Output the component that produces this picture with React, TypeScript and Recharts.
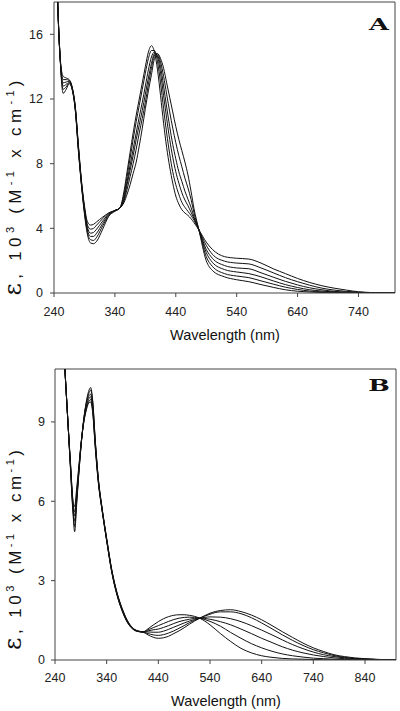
import React from 'react';
import { LineChart, Line, XAxis, YAxis, ReferenceLine } from 'recharts';

// ---------- Panel A ----------
const wavelengthsA = [240,245,250,255,260,265,270,275,280,285,290,295,300,305,310,320,330,340,348,355,360,365,370,375,380,385,390,395,400,405,410,415,420,425,430,435,440,445,450,455,460,465,470,478,490,500,520,540,560,580,600,620,640,660,680,700,720,740,760,780,800];

const epsA1 = [30,19.5,14.6,13.4,13.3,13.2,12.7,11.5,9.2,7.0,5.4,4.4,4.2,4.25,4.4,4.7,4.95,5.1,5.25,5.6,6.1,6.7,7.4,8.1,9.1,10.2,11.4,12.5,13.5,14.5,14.8,14.5,13.9,13.0,12.1,11.2,10.3,9.5,8.8,8.1,7.3,6.3,5.2,3.9,2.0,1.4,1.0,0.82,0.7,0.52,0.35,0.2,0.11,0.06,0.03,0.02,0.01,0,0,0,0];
const epsA2 = [30,19.5,14.6,13.2,13.2,13.15,12.7,11.5,9.1,6.9,5.3,4.2,3.95,4.0,4.2,4.6,4.95,5.1,5.25,5.7,6.4,7.2,8.0,8.9,9.9,10.8,11.8,12.9,13.9,14.7,14.8,14.3,13.4,12.3,11.2,10.2,9.3,8.5,7.8,7.1,6.5,5.8,4.95,3.9,2.25,1.65,1.2,1.05,0.95,0.75,0.55,0.36,0.22,0.12,0.07,0.04,0.02,0.01,0,0,0];
const epsA3 = [30,19.5,14.6,13.0,13.05,13.1,12.65,11.4,9.0,6.85,5.2,4.05,3.7,3.75,3.95,4.45,4.9,5.1,5.25,5.8,6.7,7.6,8.5,9.5,10.4,11.3,12.3,13.3,14.2,14.8,14.7,14.0,12.8,11.5,10.3,9.2,8.3,7.5,6.9,6.3,5.8,5.3,4.7,3.9,2.5,1.9,1.45,1.3,1.2,1.0,0.75,0.52,0.34,0.2,0.12,0.06,0.03,0.02,0.01,0,0];
const epsA4 = [30,19.5,14.6,12.8,12.9,13.05,12.6,11.4,9.0,6.8,5.1,3.9,3.5,3.5,3.7,4.3,4.85,5.1,5.25,5.9,6.9,7.9,8.9,9.9,10.9,11.8,12.8,13.8,14.6,14.9,14.6,13.6,12.2,10.8,9.5,8.4,7.5,6.8,6.2,5.75,5.4,5.0,4.6,3.9,2.7,2.15,1.7,1.55,1.5,1.25,0.98,0.72,0.5,0.32,0.2,0.1,0.06,0.03,0.01,0,0];
const epsA5 = [30,19.5,14.6,12.6,12.75,13.0,12.6,11.3,8.9,6.75,5.0,3.75,3.3,3.25,3.45,4.15,4.8,5.1,5.25,6.1,7.2,8.35,9.5,10.6,11.6,12.6,13.6,14.5,15.0,15.0,14.3,13.0,11.4,9.9,8.6,7.5,6.7,6.1,5.6,5.3,5.05,4.8,4.5,3.9,2.95,2.4,1.97,1.85,1.8,1.55,1.25,0.95,0.7,0.48,0.3,0.18,0.1,0.05,0.02,0.01,0];
const epsA6 = [30,19.5,14.6,12.35,12.6,12.95,12.55,11.3,8.8,6.7,4.9,3.6,3.1,3.05,3.2,3.95,4.75,5.05,5.25,6.3,7.5,8.7,9.9,11.0,12.0,13.0,14.0,14.9,15.3,14.9,13.8,12.2,10.5,9.0,7.8,6.8,6.0,5.5,5.15,4.95,4.8,4.6,4.35,3.9,3.15,2.7,2.25,2.15,2.1,1.85,1.5,1.2,0.9,0.65,0.45,0.3,0.18,0.08,0.03,0.01,0];

const xTicksA = [240,340,440,540,640,740];
const yTicksA = [0,4,8,12,16];

// ---------- Panel B ----------
const wavelengthsB = [240,250,255,260,265,270,275,278,282,286,290,295,300,305,309,313,318,325,330,340,350,360,370,380,390,400,410,420,430,440,450,460,470,480,490,500,510,520,530,540,560,580,600,620,640,660,680,700,720,740,760,780,800,820,840,860,880,900];

const epsB1 = [18,14,12.4,10.7,9.0,7.45,6.0,5.8,6.5,7.3,8.1,8.9,9.4,9.7,9.75,9.35,8.0,6.5,5.8,4.5,3.3,2.45,1.85,1.42,1.18,1.08,1.06,1.18,1.32,1.45,1.56,1.64,1.69,1.71,1.71,1.69,1.65,1.58,1.47,1.33,1.0,0.7,0.44,0.27,0.16,0.1,0.06,0.04,0.03,0.02,0.01,0.01,0,0,0,0,0,0];
const epsB2 = [18,14,12.4,10.7,9.0,7.4,5.9,5.6,6.35,7.2,8.1,8.9,9.45,9.75,9.85,9.4,8.05,6.53,5.82,4.52,3.32,2.47,1.87,1.44,1.18,1.08,1.06,1.14,1.22,1.3,1.38,1.46,1.53,1.58,1.61,1.62,1.61,1.58,1.53,1.46,1.28,1.04,0.82,0.62,0.46,0.33,0.23,0.16,0.11,0.07,0.05,0.03,0.02,0.01,0.01,0,0,0];
const epsB3 = [18,14,12.4,10.7,9.0,7.35,5.8,5.45,6.2,7.15,8.05,8.95,9.5,9.85,9.95,9.5,8.15,6.57,5.84,4.54,3.34,2.49,1.89,1.45,1.19,1.09,1.06,1.1,1.14,1.17,1.23,1.3,1.38,1.45,1.5,1.54,1.57,1.58,1.57,1.54,1.45,1.33,1.17,1.0,0.82,0.66,0.5,0.37,0.27,0.19,0.13,0.08,0.05,0.03,0.02,0.01,0.01,0];
const epsB4 = [18,14,12.4,10.7,9.0,7.3,5.7,5.25,6.1,7.1,8.05,8.95,9.6,9.95,10.05,9.6,8.2,6.6,5.86,4.56,3.36,2.51,1.91,1.46,1.2,1.09,1.06,1.06,1.05,1.05,1.09,1.16,1.24,1.32,1.4,1.47,1.53,1.58,1.61,1.63,1.62,1.56,1.45,1.3,1.13,0.95,0.76,0.58,0.43,0.3,0.2,0.13,0.08,0.05,0.03,0.02,0.01,0];
const epsB5 = [18,14,12.4,10.7,9.0,7.25,5.6,5.05,6.0,7.05,8.0,9.0,9.65,10.05,10.2,9.75,8.25,6.62,5.88,4.58,3.38,2.53,1.93,1.48,1.21,1.1,1.06,1.0,0.95,0.93,0.96,1.02,1.1,1.2,1.3,1.41,1.5,1.58,1.66,1.73,1.82,1.82,1.75,1.6,1.4,1.18,0.95,0.74,0.55,0.39,0.27,0.17,0.1,0.06,0.04,0.02,0.01,0];
const epsB6 = [18,14,12.4,10.7,9.0,7.2,5.5,4.85,5.9,7.0,8.0,9.0,9.7,10.15,10.3,9.8,8.3,6.65,5.9,4.6,3.4,2.55,1.95,1.5,1.22,1.1,1.06,0.95,0.86,0.82,0.84,0.9,1.0,1.1,1.22,1.35,1.47,1.58,1.68,1.77,1.87,1.9,1.83,1.7,1.52,1.3,1.07,0.85,0.64,0.46,0.32,0.2,0.13,0.08,0.05,0.03,0.01,0];

const xTicksB = [240,340,440,540,640,740,840];
const yTicksB = [0,3,6,9];

const seriesKeys = ['s1','s2','s3','s4','s5','s6'];

const dataA = wavelengthsA.map((w, i) => ({
  w, s1: epsA1[i], s2: epsA2[i], s3: epsA3[i], s4: epsA4[i], s5: epsA5[i], s6: epsA6[i],
}));
const dataB = wavelengthsB.map((w, i) => ({
  w, s1: epsB1[i], s2: epsB2[i], s3: epsB3[i], s4: epsB4[i], s5: epsB5[i], s6: epsB6[i],
}));

const FONT = 'Liberation Sans, Arial, sans-serif';
const AXIS = '#444';
const tickStyle = { fontFamily: FONT, fontSize: 12.5, fill: '#222' };

const makeYLabel = (cy: number, len: number) => () => (
  <text
    x={21}
    y={cy}
    transform={`rotate(-90, 21, ${cy})`}
    textAnchor="middle"
    fontFamily={FONT}
    fontSize={17}
    fill="#111"
    textLength={len}
    lengthAdjust="spacing"
  >
    <tspan fontSize={24} fontFamily="DejaVu Serif, serif">ε</tspan>
    <tspan>, 10</tspan>
    <tspan fontSize={11} dy={-7}>3</tspan>
    <tspan dy={7}> (M</tspan>
    <tspan fontSize={11} dy={-7}>-1</tspan>
    <tspan dy={7}> x cm</tspan>
    <tspan fontSize={11} dy={-7}>-1</tspan>
    <tspan dy={7}>)</tspan>
  </text>
);

const makeXLabel = (cx: number, y: number) => () => (
  <text x={cx} y={y} textAnchor="middle" fontFamily={FONT} fontSize={14.5} fill="#111">
    Wavelength (nm)
  </text>
);

const makeLetter = (letter: string, cx: number, y: number) => () => (
  <text
    transform={`translate(${cx}, ${y}) scale(1.6, 1)`}
    textAnchor="middle"
    fontFamily="DejaVu Serif, serif"
    fontWeight="bold"
    fontSize={16}
    fill="#111"
  >
    {letter}
  </text>
);

export default function App() {
  return (
    <div style={{ position: 'absolute', left: 0, top: 0, width: 400, height: 711, background: '#fff' }}>
      <div style={{ position: 'absolute', left: 0, top: 0 }}>
        <LineChart width={400} height={350} data={dataA} margin={{ top: 2, right: 5, bottom: 0, left: 0 }}>
          <XAxis
            dataKey="w"
            type="number"
            domain={[240, 800]}
            ticks={xTicksA}
            allowDataOverflow
            height={57}
            tickSize={4}
            tickMargin={10}
            tick={tickStyle}
            stroke={AXIS}
            label={{ content: makeXLabel(225, 340) }}
          />
          <YAxis
            type="number"
            domain={[0, 18]}
            ticks={yTicksA}
            allowDataOverflow
            width={54}
            tickSize={4}
            tickMargin={7}
            tick={tickStyle}
            stroke={AXIS}
            label={{ content: makeYLabel(188, 215) }}
          />
          <ReferenceLine y={18} stroke={AXIS} strokeWidth={1} />
          <ReferenceLine x={800} stroke={AXIS} strokeWidth={1} label={{ content: makeLetter('A', 379, 30) }} />
          {seriesKeys.map((k) => (
            <Line key={k} type="monotone" dataKey={k} stroke="#111" strokeWidth={1} dot={false} isAnimationActive={false} />
          ))}
        </LineChart>
      </div>
      <div style={{ position: 'absolute', left: 0, top: 360 }}>
        <LineChart width={400} height={351} data={dataB} margin={{ top: 9, right: 4, bottom: 0, left: 0 }}>
          <XAxis
            dataKey="w"
            type="number"
            domain={[240, 900]}
            ticks={xTicksB}
            allowDataOverflow
            height={51}
            tickSize={4}
            tickMargin={9}
            tick={tickStyle}
            stroke={AXIS}
            label={{ content: makeXLabel(226, 346) }}
          />
          <YAxis
            type="number"
            domain={[0, 11]}
            ticks={yTicksB}
            allowDataOverflow
            width={55}
            tickSize={4}
            tickMargin={6}
            tick={tickStyle}
            stroke={AXIS}
            label={{ content: makeYLabel(190, 200) }}
          />
          <ReferenceLine y={11} stroke={AXIS} strokeWidth={1} />
          <ReferenceLine x={900} stroke={AXIS} strokeWidth={1} label={{ content: makeLetter('B', 379, 31) }} />
          {seriesKeys.map((k) => (
            <Line key={k} type="monotone" dataKey={k} stroke="#111" strokeWidth={1} dot={false} isAnimationActive={false} />
          ))}
        </LineChart>
      </div>
    </div>
  );
}
